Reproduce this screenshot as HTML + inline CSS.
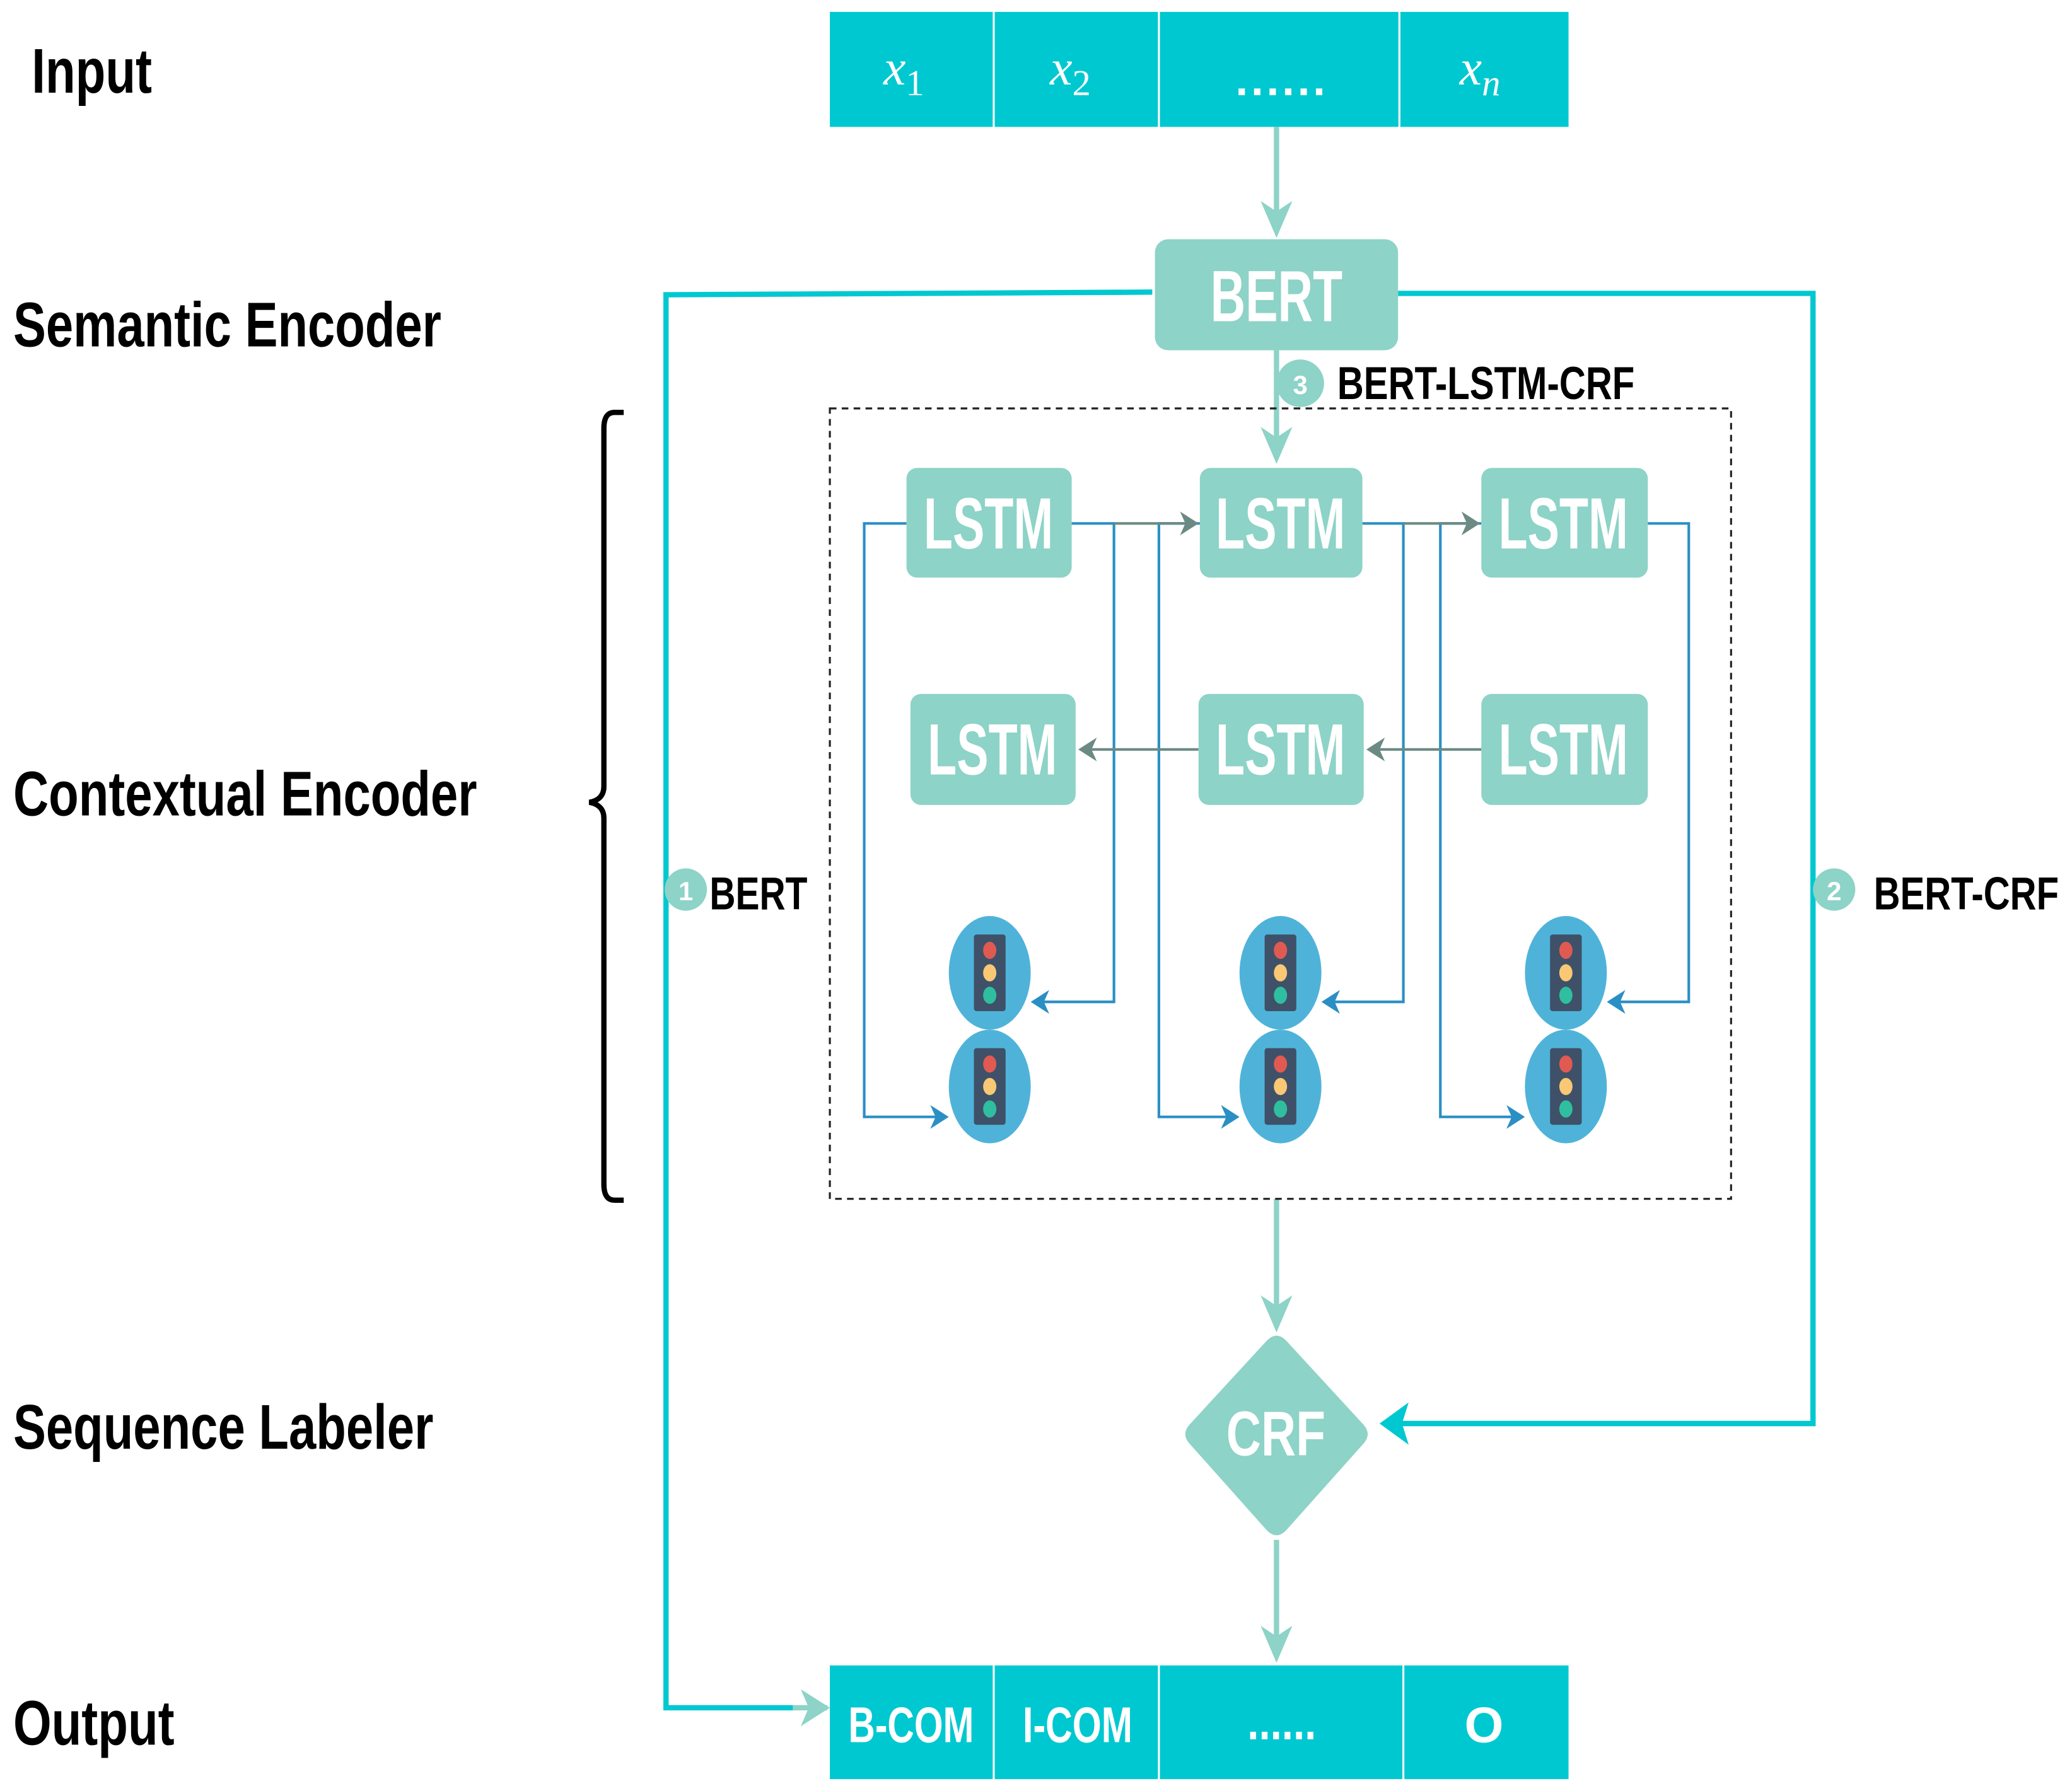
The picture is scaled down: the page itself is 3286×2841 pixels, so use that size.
<!DOCTYPE html>
<html><head><meta charset="utf-8"><style>
html,body{margin:0;padding:0;background:#fff;}
svg{display:block;}
text{font-family:"Liberation Sans Narrow","Liberation Sans",sans-serif;font-weight:bold;}
</style></head><body>
<svg width="3286" height="2841" viewBox="0 0 1568 1355" preserveAspectRatio="none" xmlns="http://www.w3.org/2000/svg">
<defs>
<g id="tl">
<ellipse cx="0" cy="0" rx="31" ry="43" fill="#4fb3d9"/>
<rect x="-12" y="-29" width="24" height="58" rx="2" fill="#3e5168"/>
<ellipse cx="0" cy="-17" rx="5" ry="6.5" fill="#e05a52"/>
<ellipse cx="0" cy="0" rx="5" ry="6.5" fill="#f9c874"/>
<ellipse cx="0" cy="17" rx="5" ry="6.5" fill="#2fbfa0"/>
</g>
</defs>

<text x="24" y="70" font-size="48" fill="#000" textLength="91" lengthAdjust="spacingAndGlyphs">Input</text>
<text x="10" y="262" font-size="48" fill="#000" textLength="324" lengthAdjust="spacingAndGlyphs">Semantic Encoder</text>
<text x="10" y="617" font-size="48" fill="#000" textLength="351" lengthAdjust="spacingAndGlyphs">Contextual Encoder</text>
<text x="10" y="1096" font-size="48" fill="#000" textLength="318" lengthAdjust="spacingAndGlyphs">Sequence Labeler</text>
<text x="10" y="1320" font-size="48" fill="#000" textLength="122" lengthAdjust="spacingAndGlyphs">Output</text>

<path d="M472,312 H465 Q457,312 457,324 V595 Q457,605 446,607 Q457,609 457,619 V896 Q457,908 465,908 H472" fill="none" stroke="#000" stroke-width="4"/>

<rect x="628" y="9" width="559" height="87" fill="#00c8d0"/>
<g stroke="#fff" stroke-width="1.5"><line x1="752" y1="9" x2="752" y2="96"/><line x1="877" y1="9" x2="877" y2="96"/><line x1="1059" y1="9" x2="1059" y2="96"/></g>
<g fill="#fff" font-style="italic" font-size="38" text-anchor="middle">
<text x="684" y="64" style="font-family:'Liberation Serif',serif;font-weight:normal">x<tspan font-size="28" font-style="normal" dy="8">1</tspan></text>
<text x="810" y="64" style="font-family:'Liberation Serif',serif;font-weight:normal">x<tspan font-size="28" font-style="normal" dy="8">2</tspan></text>
<text x="1120" y="64" style="font-family:'Liberation Serif',serif;font-weight:normal">x<tspan font-size="28" dy="8">n</tspan></text>
</g>
<text x="969" y="72" font-size="34" fill="#fff" text-anchor="middle" textLength="68" lengthAdjust="spacing">......</text>

<g fill="none" stroke="#00c8d0" stroke-width="4">
<path d="M872,221 L504,223 V1292 H600"/>
<path d="M1058,222 H1372 V1077 H1060"/>
</g>
<path d="M600,1292 L626,1292" stroke="#8dd3c7" stroke-width="4"/>
<polygon points="628,1292 606,1278 612,1292 606,1306" fill="#8dd3c7"/>
<polygon points="1044,1077 1066,1061 1061,1077 1066,1093" fill="#00c8d0"/>

<g stroke="#8dd3c7" stroke-width="4" fill="none">
<line x1="966" y1="96" x2="966" y2="170"/>
<line x1="966" y1="265" x2="966" y2="340"/>
<line x1="966" y1="907" x2="966" y2="997"/>
<line x1="966" y1="1165" x2="966" y2="1245"/>
</g>
<g fill="#8dd3c7">
<polygon points="966,180 954,152 966,160 978,152"/>
<polygon points="966,351 954,323 966,331 978,323"/>
<polygon points="966,1008 954,980 966,988 978,980"/>
<polygon points="966,1258 954,1230 966,1238 978,1230"/>
</g>

<rect x="874" y="181" width="184" height="84" rx="10" fill="#8dd3c7"/>
<text x="916" y="243" font-size="55" fill="#fff" textLength="100" lengthAdjust="spacingAndGlyphs">BERT</text>

<circle cx="984" cy="290" r="18" fill="#8dd3c7"/>
<text x="984" y="298" font-size="20" fill="#fff" text-anchor="middle" font-weight="normal">3</text>
<text x="1012" y="302" font-size="35" fill="#000" textLength="225" lengthAdjust="spacingAndGlyphs">BERT-LSTM-CRF</text>

<rect x="628" y="309" width="682" height="598" fill="none" stroke="#222" stroke-width="1.5" stroke-dasharray="5,4"/>

<g fill="none" stroke="#2a8fc4" stroke-width="2">
<path d="M686,396 H654 V845 H710"/>
<path d="M811,396 H843 V758 H788"/>
<path d="M908,396 H877 V845 H930"/>
<path d="M1031,396 H1062 V758 H1008"/>
<path d="M1121,396 H1090 V845 H1146"/>
<path d="M1247,396 H1278 V758 H1224"/>
</g>
<g fill="#2a8fc4">
<polygon points="718,845 704,836 708,845 704,854"/>
<polygon points="938,845 924,836 928,845 924,854"/>
<polygon points="1154,845 1140,836 1144,845 1140,854"/>
<polygon points="780,758 794,749 790,758 794,767"/>
<polygon points="1000,758 1014,749 1010,758 1014,767"/>
<polygon points="1216,758 1230,749 1226,758 1230,767"/>
</g>

<g stroke="#6b8a84" stroke-width="2">
<line x1="843" y1="396" x2="898" y2="396"/>
<line x1="1062" y1="396" x2="1111" y2="396"/>
<line x1="907" y1="567" x2="826" y2="567"/>
<line x1="1121" y1="567" x2="1044" y2="567"/>
</g>
<g fill="#6b8a84">
<polygon points="907,396 893,387 897,396 893,405"/>
<polygon points="1120,396 1106,387 1110,396 1106,405"/>
<polygon points="816,567 830,558 826,567 830,576"/>
<polygon points="1034,567 1048,558 1044,567 1048,576"/>
</g>

<g fill="#8dd3c7">
<rect x="686" y="354" width="125" height="83" rx="8"/>
<rect x="908" y="354" width="123" height="83" rx="8"/>
<rect x="1121" y="354" width="126" height="83" rx="8"/>
<rect x="689" y="525" width="125" height="84" rx="8"/>
<rect x="907" y="525" width="125" height="84" rx="8"/>
<rect x="1121" y="525" width="126" height="84" rx="8"/>
</g>
<g fill="#fff" font-size="55">
<text x="699" y="415" textLength="98" lengthAdjust="spacingAndGlyphs">LSTM</text>
<text x="920" y="415" textLength="98" lengthAdjust="spacingAndGlyphs">LSTM</text>
<text x="1134" y="415" textLength="98" lengthAdjust="spacingAndGlyphs">LSTM</text>
<text x="702" y="586" textLength="98" lengthAdjust="spacingAndGlyphs">LSTM</text>
<text x="920" y="586" textLength="98" lengthAdjust="spacingAndGlyphs">LSTM</text>
<text x="1134" y="586" textLength="98" lengthAdjust="spacingAndGlyphs">LSTM</text>
</g>

<use href="#tl" x="749" y="736"/><use href="#tl" x="749" y="822"/>
<use href="#tl" x="969" y="736"/><use href="#tl" x="969" y="822"/>
<use href="#tl" x="1185" y="736"/><use href="#tl" x="1185" y="822"/>

<circle cx="519" cy="673" r="16" fill="#8dd3c7"/>
<text x="519" y="681" font-size="20" fill="#fff" text-anchor="middle" font-weight="normal">1</text>
<text x="537" y="688" font-size="35" fill="#000" textLength="74" lengthAdjust="spacingAndGlyphs">BERT</text>
<circle cx="1388" cy="673" r="16" fill="#8dd3c7"/>
<text x="1388" y="681" font-size="20" fill="#fff" text-anchor="middle" font-weight="normal">2</text>
<text x="1418" y="688" font-size="35" fill="#000" textLength="140" lengthAdjust="spacingAndGlyphs">BERT-CRF</text>

<path d="M958,1015 Q966,1006 974,1015 L1032,1078 Q1038,1085 1032,1092 L974,1157 Q966,1166 958,1157 L900,1092 Q894,1085 900,1078 Z" fill="#8dd3c7"/>
<text x="928" y="1101" font-size="48" fill="#fff" textLength="75" lengthAdjust="spacingAndGlyphs">CRF</text>

<rect x="628" y="1260" width="559" height="86" fill="#00c8d0"/>
<g stroke="#fff" stroke-width="1.5"><line x1="752" y1="1260" x2="752" y2="1346"/><line x1="877" y1="1260" x2="877" y2="1346"/><line x1="1062" y1="1260" x2="1062" y2="1346"/></g>
<g fill="#fff" font-size="38">
<text x="642" y="1318" textLength="95" lengthAdjust="spacingAndGlyphs">B-COM</text>
<text x="774" y="1318" textLength="83" lengthAdjust="spacingAndGlyphs">I-COM</text>
<text x="944" y="1316" textLength="52" lengthAdjust="spacingAndGlyphs">......</text>
<text x="1123" y="1318" text-anchor="middle">O</text>
</g>
</svg>
</body></html>
